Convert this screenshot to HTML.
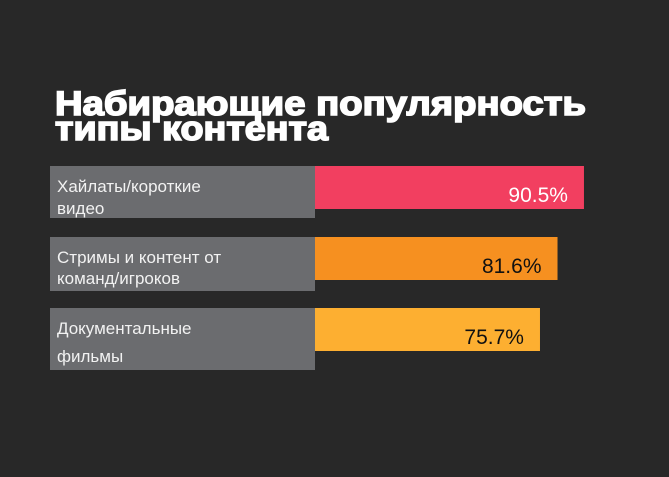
<!DOCTYPE html>
<html><head><meta charset="utf-8"><style>
html,body{margin:0;padding:0;background:#282828;}
svg{display:block;font-family:"Liberation Sans","DejaVu Sans",sans-serif;}
</style></head><body>
<svg width="669" height="477" viewBox="0 0 669 477">
<rect x="0" y="0" width="669" height="477" fill="#282828"/>
<g>
<text x="55" y="115" font-size="34" font-weight="bold" fill="#fff" stroke="#fff" stroke-width="1.6" textLength="531" lengthAdjust="spacingAndGlyphs">Набирающие популярность</text>
<text x="55" y="140" font-size="34" font-weight="bold" fill="#fff" stroke="#fff" stroke-width="1.6" textLength="273" lengthAdjust="spacingAndGlyphs">типы контента</text>
</g>
<g id="bars"></g>
</svg>
<script>
const categories1 = ["Хайлаты/короткие", "Стримы и контент от", "Документальные"];
const categories2 = ["видео", "команд/игроков", "фильмы"];
const values = [90.5, 81.6, 75.7];
const valueLabels = ["90.5%", "81.6%", "75.7%"];
const colors = ["#f23f60", "#f69020", "#fdaf31"];
const textColors = ["#ffffff", "#111111", "#111111"];
const rowTops = [166, 237, 308];
const labelHeights = [52, 54, 62];
const line2Offsets = [48, 47, 54];
const x0 = 315, scale = 2.972, barH = 43;
function xs(v){return x0 + v*scale;}
const ns = "http://www.w3.org/2000/svg";
const g = document.getElementById("bars");
function mk(tag, attrs){const e=document.createElementNS(ns,tag);for(const k in attrs)e.setAttribute(k,attrs[k]);g.appendChild(e);return e;}
values.forEach((v,i)=>{
  const y = rowTops[i];
  const lb = mk("rect",{x:50,y:y,width:x0-50,height:labelHeights[i],fill:"#6b6c6f"});
  
  
  const t1 = mk("text",{x:57,y:y+26,"font-size":17,fill:"#f2f2f2"});
  t1.textContent = categories1[i];
  
  
  const t2 = mk("text",{x:57,y:y+line2Offsets[i],"font-size":17,fill:"#f2f2f2"});
  t2.textContent = categories2[i];
  
  
  const b = mk("rect",{x:x0,y:y,width:xs(v)-x0,height:barH,fill:colors[i]});
  
  
  const vt = mk("text",{x:xs(v)-16,y:y+36,"font-size":21,fill:textColors[i],"text-anchor":"end"});
  vt.textContent = valueLabels[i];
  
  
});
</script>
</body></html>
